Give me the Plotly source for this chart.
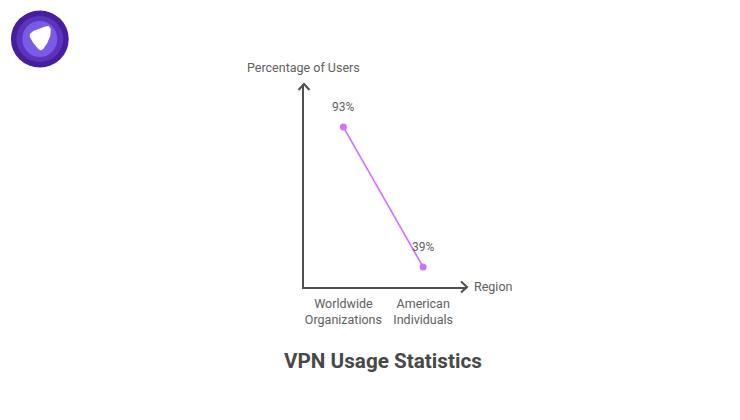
import plotly.graph_objects as go

# --- data ---------------------------------------------------------------
categories = ["Worldwide<br>Organizations", "American<br>Individuals"]
positions = [0, 1]
usage_pct = [93, 39]
point_labels = ["93%", "39%"]

W, H = 740, 420
LEFT, RIGHT, TOP, BOTTOM = 303.5, 467, 84, 287
TEXT = "#606060"
AXIS = "#505050"
PURPLE = "#d070ff"
FONT = "Roboto"


# paper coords run over the plot area, not the whole page
def px(x):
    return (x - LEFT) / (RIGHT - LEFT)


def py(y):
    return (BOTTOM - y) / (BOTTOM - TOP)


def blob(cx, cy, rx, ry, color):
    return dict(type="circle", xref="paper", yref="paper", layer="above",
                x0=px(cx - rx), x1=px(cx + rx), y0=py(cy + ry), y1=py(cy - ry),
                fillcolor=color, line_width=0)


def poly(points, color=None, line=None, width=0):
    d = "M " + " L ".join(f"{px(a):.5f},{py(b):.5f}" for a, b in points)
    if color:
        d += " Z"
    return dict(type="path", xref="paper", yref="paper", layer="above", path=d,
                fillcolor=color or "rgba(0,0,0,0)",
                line=dict(color=line or "rgba(0,0,0,0)", width=width))


def page_text(x, y, text, size, color=TEXT):
    return dict(x=px(x), y=py(y), xref="paper", yref="paper", text=text, showarrow=False,
                xanchor="center", yanchor="middle",
                font=dict(family=FONT, size=size, color=color))


fig = go.Figure()
fig.add_trace(go.Scatter(
    x=positions, y=usage_pct, mode="lines+markers",
    line=dict(color=PURPLE, width=1.6),
    marker=dict(color=PURPLE, size=7),
    hoverinfo="skip", cliponaxis=False,
))

# labels over the points
annotations = [
    dict(x=x, y=v, xref="x", yref="y", text=t, showarrow=False, yshift=20,
         yanchor="middle", font=dict(family=FONT, size=12, color=TEXT))
    for x, v, t in zip(positions, usage_pct, point_labels)
]
annotations += [
    page_text(303, 67, "Percentage of Users", 12.5),
    page_text(493.5, 286.5, "Region", 12.5),
    page_text(383, 361, "<b>VPN Usage Statistics</b>", 20.7, "#484848"),
]

shapes = [
    # arrow heads
    poly([(298, 90), (303.5, 84), (309, 90)], line=AXIS, width=2),
    poly([(461, 281.5), (467, 287), (461, 292.5)], line=AXIS, width=2),
    # logo
    blob(38.5, 39, 29, 28.5, "#481e9e"),
    blob(38.5, 39, 23.5, 23, "#5c34bb"),
    blob(38.5, 39, 17.5, 18, "#7a5be9"),
    poly([(28.5, 34), (32, 31), (44, 26.5), (47.5, 26), (49.5, 29), (49, 36),
          (46, 43), (42, 49), (39.5, 50.5), (37, 49), (32, 43), (28.5, 37)], color="#ffffff"),
]

fig.update_layout(
    width=W, height=H, autosize=False,
    margin=dict(l=LEFT, r=W - RIGHT, t=TOP, b=H - BOTTOM, pad=0),
    paper_bgcolor="white", plot_bgcolor="white",
    showlegend=False,
    annotations=annotations, shapes=shapes,
    xaxis=dict(range=[-0.494, 1.55], tickvals=positions, ticktext=categories,
               showgrid=False, zeroline=False, showline=True,
               linecolor=AXIS, linewidth=2, ticks="", ticklabelstandoff=4,
               tickfont=dict(family=FONT, size=12.5, color=TEXT)),
    yaxis=dict(range=[31.3, 109.6], showticklabels=False, showgrid=False,
               zeroline=False, showline=True, linecolor=AXIS, linewidth=2, ticks=""),
)

# page default margin would push the figure 8px down and right
fig.write_html("out.html", config={"displayModeBar": False},
               post_script="document.body.style.margin='0';")
